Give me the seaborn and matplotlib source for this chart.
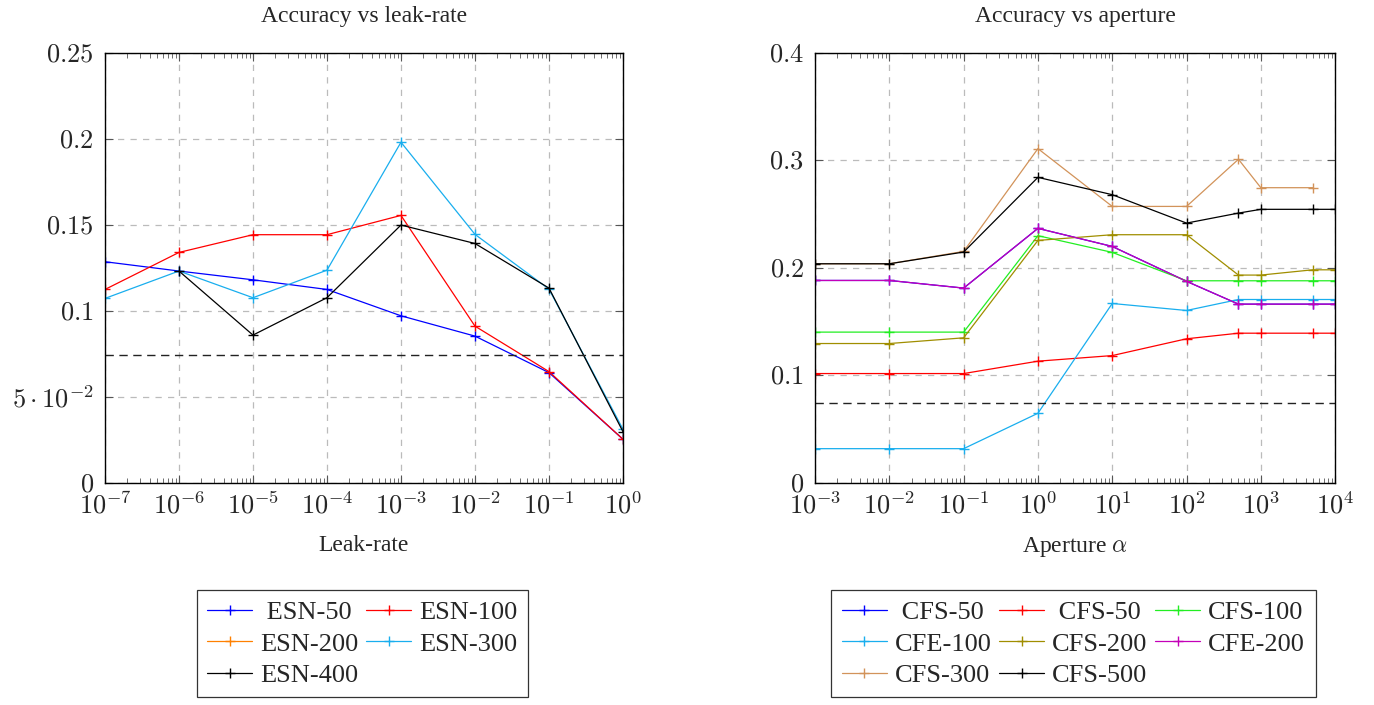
import numpy as np
import pandas as pd
import matplotlib
matplotlib.use("Agg")
import matplotlib.pyplot as plt
from matplotlib.lines import Line2D
from matplotlib.ticker import LogLocator, FixedLocator, NullFormatter
import seaborn as sns

# ---------------- data ----------------
leak_rates = [1e-7, 1e-6, 1e-5, 1e-4, 1e-3, 1e-2, 1e-1, 1e0]
esn_50 = [0.1285, 0.1231, 0.1180, 0.1124, 0.0971, 0.0853, 0.0641, 0.0254]
esn_100 = [0.1124, 0.1339, 0.1442, 0.1442, 0.1554, 0.0911, 0.0647, 0.0254]
esn_200 = [np.nan] * 8
esn_300 = [0.1072, 0.1231, 0.1076, 0.1236, 0.1979, 0.1444, 0.1126, 0.0312]
esn_400 = [np.nan, 0.1231, 0.0859, 0.1076, 0.1498, 0.1391, 0.1132, 0.0298]

apertures = [1e-3, 1e-2, 1e-1, 1e0, 1e1, 1e2, 5e2, 1e3, 5e3, 1e4]
cfs_50_blue = [0.1882, 0.1882, 0.1811, 0.2366, 0.2198, 0.1874, 0.1662, 0.1662, 0.1662, 0.1662]
cfs_50_red = [0.1017, 0.1017, 0.1017, 0.1132, 0.1184, 0.1340, 0.1392, 0.1392, 0.1392, 0.1392]
cfs_100 = [0.1402, 0.1402, 0.1402, 0.2298, 0.2143, 0.1879, 0.1879, 0.1879, 0.1879, 0.1879]
cfe_100 = [0.0319, 0.0319, 0.0319, 0.0648, 0.1668, 0.1603, 0.1705, 0.1705, 0.1705, 0.1705]
cfs_200 = [0.1296, 0.1296, 0.1349, 0.2254, 0.2307, 0.2307, 0.1932, 0.1932, 0.1981, 0.1981]
cfe_200 = [0.1882, 0.1882, 0.1811, 0.2366, 0.2198, 0.1874, 0.1662, 0.1662, 0.1662, 0.1662]
cfs_300 = [0.2037, 0.2037, 0.2152, 0.3107, 0.2570, 0.2570, 0.3008, 0.2744, 0.2744, np.nan]
cfs_500 = [0.2037, 0.2037, 0.2146, 0.2840, 0.2679, 0.2415, 0.2508, 0.2543, 0.2543, 0.2543]

chance_level = 0.0744

left_labels = [" ESN-50", "ESN-100", "ESN-200", "ESN-300", "ESN-400"]
left_series = [esn_50, esn_100, esn_200, esn_300, esn_400]
left_colors = ["#0000FF", "#FF0000", "#FF8000", "#19AEEE", "#000000"]

right_labels = [" CFS-50", " CFS-50", "CFS-100", "CFE-100", "CFS-200", "CFE-200", "CFS-300", "CFS-500"]
right_series = [cfs_50_blue, cfs_50_red, cfs_100, cfe_100, cfs_200, cfe_200, cfs_300, cfs_500]
right_colors = ["#0000FF", "#FF0000", "#22EE22", "#19AEEE", "#A08E00", "#C400B8", "#D2935A", "#000000"]

left_yticks = [0, 0.05, 0.1, 0.15, 0.2, 0.25]
left_yticklabels = ["$0$", r"$5\cdot10^{-2}$", "$0.1$", "$0.15$", "$0.2$", "$0.25$"]
right_yticks = [0, 0.1, 0.2, 0.3, 0.4]
right_yticklabels = ["$0$", "$0.1$", "$0.2$", "$0.3$", "$0.4$"]

# ---------------- style ----------------
sns.set_theme(style="white")
plt.rcParams["font.family"] = ["Liberation Serif", "DejaVu Serif"]
plt.rcParams["mathtext.fontset"] = "cm"

FS = 17
TFS = 19
LFS = 19
LW = 0.9
fig = plt.figure(figsize=(13.74, 7.05), dpi=100)
ax1 = fig.add_axes([0.0764, 0.3149, 0.3770, 0.6106])
ax2 = fig.add_axes([0.5932, 0.3149, 0.3785, 0.6106])


def style_axis(ax, xmin, xmax, ymin, ymax, yticks, yticklabels):
    ax.set_xscale("log")
    ax.set_xlim(xmin, xmax)
    ax.set_ylim(ymin, ymax)
    decades = list(range(int(round(np.log10(xmin))), int(round(np.log10(xmax))) + 1))
    ax.xaxis.set_major_locator(FixedLocator([10.0 ** d for d in decades]))
    ax.set_xticklabels([r"$10^{%d}$" % d for d in decades], fontsize=TFS)
    ax.xaxis.set_minor_locator(LogLocator(base=10, subs=np.arange(2, 10), numticks=100))
    ax.xaxis.set_minor_formatter(NullFormatter())
    ax.set_yticks(yticks)
    ax.set_yticklabels(yticklabels, fontsize=TFS)
    ax.tick_params(axis="both", which="major", direction="in", length=6, width=0.8,
                   top=True, right=True, bottom=True, left=True, color="#555555", pad=8)
    ax.tick_params(axis="x", which="minor", direction="in", length=3.5, width=0.6,
                   top=True, bottom=True, color="#555555")
    ax.tick_params(axis="x", which="major", pad=6)
    ax.grid(True, which="major", linestyle=(0, (5, 5)), color="#BBBBBB", linewidth=0.9)
    ax.set_axisbelow(True)
    for sp in ax.spines.values():
        sp.set_color("black")
        sp.set_linewidth(1.0)


def draw(ax, xs, series, colors):
    for vals, col in zip(series, colors):
        df = pd.DataFrame({"x": xs, "y": vals}).dropna()
        if len(df):
            sns.lineplot(data=df, x="x", y="y", ax=ax, color=col, marker="+", markersize=7,
                         markeredgewidth=1.0, markeredgecolor=col, linewidth=LW, legend=False,
                         estimator=None, sort=False)


# ---------------- left plot ----------------
draw(ax1, leak_rates, left_series, left_colors)
ax1.axhline(chance_level, color="#222222", linestyle=(0, (6, 4)), linewidth=1.0)
style_axis(ax1, 1e-7, 1e0, 0, 0.25, left_yticks, left_yticklabels)
ax1.set_title("Accuracy vs leak-rate", fontsize=FS, pad=22)
ax1.set_xlabel("Leak-rate", fontsize=FS, labelpad=12)
ax1.set_ylabel("")

# ---------------- right plot ----------------
draw(ax2, apertures, right_series, right_colors)
ax2.axhline(chance_level, color="#222222", linestyle=(0, (6, 4)), linewidth=1.0)
style_axis(ax2, 1e-3, 1e4, 0, 0.4, right_yticks, right_yticklabels)
ax2.set_title("Accuracy vs aperture", fontsize=FS, pad=22)
ax2.set_xlabel(r"Aperture $\alpha$", fontsize=FS, labelpad=12)
ax2.set_ylabel("")


# ---------------- legends (row-major order like pgfplots) ----------------
def handles_for(colors):
    return [Line2D([0], [0], color=c, marker="+", markersize=7, markeredgewidth=1.0,
                   linewidth=LW) for c in colors]


def row_major(items, ncol):
    nrow = int(np.ceil(len(items) / ncol))
    out = []
    for c in range(ncol):
        for r in range(nrow):
            i = r * ncol + c
            if i < len(items):
                out.append(items[i])
    return out


def make_legend(colors, labels, ncol, xc):
    h = row_major(handles_for(colors), ncol)
    l = row_major(labels, ncol)
    leg = fig.legend(h, l, loc="upper center", bbox_to_anchor=(xc, 0.163), ncol=ncol,
                     fontsize=LFS, frameon=True, fancybox=False, edgecolor="black",
                     handlelength=1.7, columnspacing=0.3, labelspacing=0.3,
                     handletextpad=0.3, borderpad=0.4, borderaxespad=0)
    leg.get_frame().set_linewidth(0.9)
    return leg


make_legend(left_colors, left_labels, 2, 0.2638)
make_legend(right_colors, right_labels, 3, 0.7813)

fig.savefig("out.png", dpi=100, facecolor="white")
